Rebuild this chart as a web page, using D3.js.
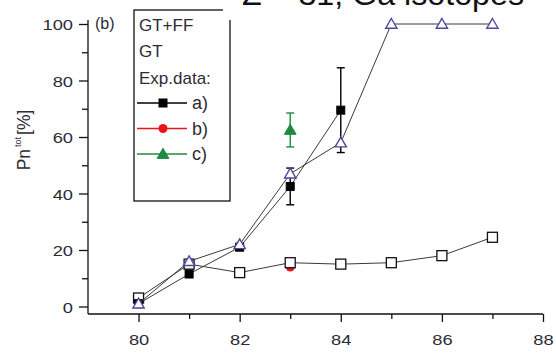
<!DOCTYPE html>
<html>
<head>
<meta charset="utf-8">
<script src="https://cdn.jsdelivr.net/npm/d3@7"></script>
<style>
  html, body { margin: 0; padding: 0; background: #fff; }
  svg { display: block; }
  svg text { font-family: "Liberation Sans", Arial, sans-serif; }
</style>
</head>
<body>
<svg id="chart" width="556" height="353"></svg>
<script>
// Mass numbers of the Ga isotopes
const massNumbers = [80, 81, 82, 83, 84, 85, 86, 87];
// Model curves, Pn_tot in %
const gtffValues = [1, 16, 22, 47, 58, 100, 100, 100];
const gtValues = [3, 15, 12, 15.5, 15, 15.5, 18, 24.5];
// Experimental data sets
const expAMass = [80, 81, 82, 83, 84];
const expAValues = [1, 11.5, 21, 42.5, 69.5];
const expAErrors = [0, 0, 0, 6.5, 15];
const expBMass = [83];
const expBValues = [14];
const expCMass = [83];
const expCValues = [62.5];
const expCErrors = [6];
// Axis ticks
const xTickValues = [80, 82, 84, 86, 88];
const yTickValues = [0, 20, 40, 60, 80, 100];
const legendModels = ["GT+FF", "GT", "Exp.data:"];
const legendExp = ["a)", "b)", "c)"];

const svg = d3.select("#chart");
const x = d3.scaleLinear().domain([79, 88]).range([88, 543]);
const y = d3.scaleLinear().domain([0, 100]).range([306.5, 24]);
const axisY = 314;
const axisX = 88;

const textColor = "#2c2c36";
const blue = "#4b48a0";
const red = "#e8141c";
const green = "#1e8a40";
const lineColor = "#3a3a3a";
const stretch = 1.18;

// ---- axes ----
const gx = svg.append("g").attr("transform", `translate(0,${axisY})`);
gx.call(d3.axisBottom(x).tickValues(xTickValues).tickSize(8).tickFormat(d3.format("d")));
const gxMinor = svg.append("g").attr("transform", `translate(0,${axisY})`);
gxMinor.call(d3.axisBottom(x).tickValues([81, 83, 85, 87]).tickSize(5).tickFormat(""));
gxMinor.select(".domain").remove();
gx.select(".domain").attr("d", `M${x(79)},0H${x(88)}`);

const gy = svg.append("g").attr("transform", `translate(${axisX},0)`);
gy.call(d3.axisLeft(y).tickValues(yTickValues).tickSize(9).tickFormat(d3.format("d")));
const gyMinor = svg.append("g").attr("transform", `translate(${axisX},0)`);
gyMinor.call(d3.axisLeft(y).tickValues([10, 30, 50, 70, 90]).tickSize(6).tickFormat(""));
gyMinor.select(".domain").remove();
gy.select(".domain").attr("d", `M0,${axisY}V20`);

svg.selectAll("g").attr("font-family", null);
svg.selectAll(".domain, .tick line").attr("stroke", "#111").attr("stroke-width", 1.3);
gx.selectAll(".tick text").attr("font-size", 15.5).attr("fill", textColor)
  .attr("y", 0).attr("dy", null).attr("transform", `translate(0,31) scale(${stretch},1)`);
gy.selectAll(".tick text").attr("font-size", 15.5).attr("fill", textColor)
  .attr("x", 0).attr("dy", "0.36em").attr("transform", `translate(-15,0) scale(${stretch},1)`);

// y axis title: Pn^tot [%]
const yTitle = svg.append("text")
  .attr("transform", "translate(30,140) rotate(-90)")
  .attr("text-anchor", "middle")
  .attr("font-size", 17.5)
  .attr("fill", textColor);
yTitle.append("tspan").text("Pn");
yTitle.append("tspan").attr("font-size", 9).attr("dy", -9).attr("dx", 2).text("tot");
yTitle.append("tspan").attr("dy", 9).attr("dx", 2).text("[%]");

// panel tag
svg.append("text").attr("x", 95).attr("y", 29).attr("font-size", 16).attr("fill", textColor).text("(b)");

// ---- legend ----
const lg = svg.append("g");
lg.append("rect").attr("x", 134).attr("y", 10).attr("width", 96).attr("height", 191)
  .attr("fill", "none").attr("stroke", "#111").attr("stroke-width", 1.3);
legendModels.forEach((t, i) => {
  lg.append("text").attr("x", 139).attr("y", 30.5 + i * 26.5).attr("font-size", 17)
    .attr("fill", textColor).text(t);
});
const legendRows = [
  { color: "#000", shape: "square" },
  { color: red, shape: "circle" },
  { color: green, shape: "triangle" }
];
legendRows.forEach((r, i) => {
  const cy = 103 + i * 25.5;
  lg.append("line").attr("x1", 137).attr("x2", 187).attr("y1", cy).attr("y2", cy)
    .attr("stroke", r.color).attr("stroke-width", 1.3);
  drawMarker(lg, r.shape, 163, cy, r.color, r.color);
  lg.append("text").attr("x", 192).attr("y", cy + 6).attr("font-size", 18)
    .attr("fill", textColor).text(legendExp[i]);
});

// title banner
svg.append("rect").attr("x", 223).attr("y", 0).attr("width", 333).attr("height", 20).attr("fill", "#fff");
svg.append("text").attr("x", 242).attr("y", 5)
  .attr("font-family", "Open Sans, sans-serif").attr("font-size", 31).attr("fill", "#111")
  .attr("textLength", 282).attr("lengthAdjust", "spacingAndGlyphs")
  .text("Z = 31, Ga isotopes");

// ---- marker helper ----
function drawMarker(g, shape, cx, cy, stroke, fill) {
  if (shape === "square") {
    g.append("rect").attr("x", cx - 4).attr("y", cy - 4).attr("width", 8).attr("height", 8)
      .attr("fill", fill).attr("stroke", stroke).attr("stroke-width", 1);
  } else if (shape === "openSquare") {
    g.append("rect").attr("x", cx - 5).attr("y", cy - 5).attr("width", 10).attr("height", 10)
      .attr("fill", "#fff").attr("stroke", stroke).attr("stroke-width", 1.3);
  } else if (shape === "circle") {
    g.append("circle").attr("cx", cx).attr("cy", cy).attr("r", 4.5).attr("fill", fill);
  } else if (shape === "triangle") {
    g.append("path").attr("d", d3.symbol(d3.symbolTriangle, 60)()).attr("transform", `translate(${cx},${cy + 1})`)
      .attr("fill", fill).attr("stroke", stroke).attr("stroke-width", 1);
  } else if (shape === "openTriangle") {
    g.append("path").attr("d", d3.symbol(d3.symbolTriangle, 55)()).attr("transform", `translate(${cx},${cy + 1})`)
      .attr("fill", "#fff").attr("stroke", stroke).attr("stroke-width", 1.4);
  }
}

function errorBars(g, xs, ys, es, color) {
  xs.forEach((xv, i) => {
    if (!es[i]) return;
    const px = x(xv), top = y(ys[i] + es[i]), bot = y(ys[i] - es[i]);
    g.append("line").attr("x1", px).attr("x2", px).attr("y1", top).attr("y2", bot)
      .attr("stroke", color).attr("stroke-width", 1.4);
    [top, bot].forEach(yy => g.append("line").attr("x1", px - 4).attr("x2", px + 4)
      .attr("y1", yy).attr("y2", yy).attr("stroke", color).attr("stroke-width", 1.4));
  });
}

const line = d3.line().x(d => x(d[0])).y(d => y(d[1]));
const plot = svg.append("g");

// experimental b) lies underneath the GT curve
expBMass.forEach((m, i) => drawMarker(plot, "circle", x(m), y(expBValues[i]), red, red));

// GT curve
plot.append("path").datum(massNumbers.map((m, i) => [m, gtValues[i]])).attr("d", line)
  .attr("fill", "none").attr("stroke", lineColor).attr("stroke-width", 1);
massNumbers.forEach((m, i) => drawMarker(plot, "openSquare", x(m), y(gtValues[i]), "#111"));

// experimental a)
plot.append("path").datum(expAMass.map((m, i) => [m, expAValues[i]])).attr("d", line)
  .attr("fill", "none").attr("stroke", lineColor).attr("stroke-width", 1);
errorBars(plot, expAMass, expAValues, expAErrors, "#000");
expAMass.forEach((m, i) => drawMarker(plot, "square", x(m), y(expAValues[i]), "#000", "#000"));

// GT+FF curve
plot.append("path").datum(massNumbers.map((m, i) => [m, gtffValues[i]])).attr("d", line)
  .attr("fill", "none").attr("stroke", lineColor).attr("stroke-width", 1);
massNumbers.forEach((m, i) => drawMarker(plot, "openTriangle", x(m), y(gtffValues[i]), blue));

// experimental c)
errorBars(plot, expCMass, expCValues, expCErrors, green);
expCMass.forEach((m, i) => drawMarker(plot, "triangle", x(m), y(expCValues[i]), green, green));
</script>
</body>
</html>
